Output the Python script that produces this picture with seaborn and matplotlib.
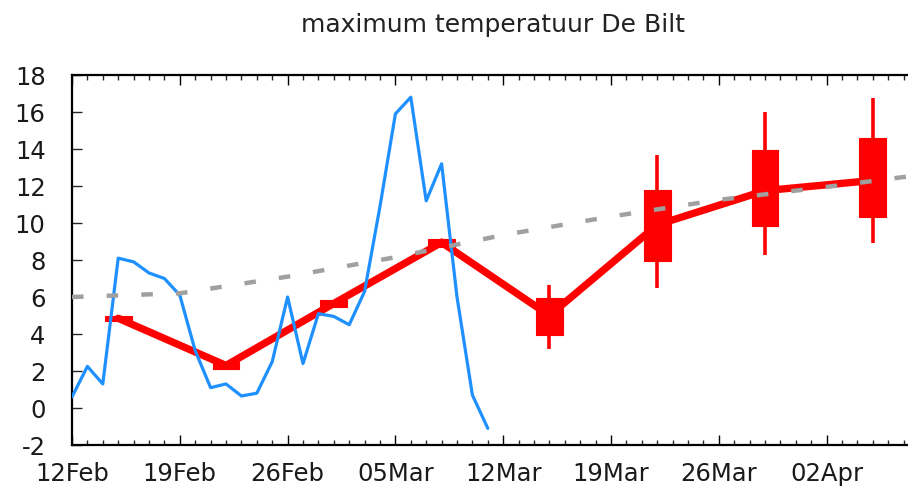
import numpy as np
import pandas as pd
import matplotlib
matplotlib.use("Agg")
import matplotlib.pyplot as plt
import matplotlib.dates as mdates
import seaborn as sns

# ---------------- data ----------------
start_date = "2023-02-12"

# observed daily maximum temperature (blue), one value per day from 12 Feb
obs_max = [0.6, 2.25, 1.3, 8.1, 7.9, 7.3, 7.0, 6.1, 3.1, 1.1, 1.3, 0.65, 0.8, 2.5,
           6.0, 2.4, 5.1, 4.95, 4.5, 6.3, 10.9, 15.9, 16.8, 11.2, 13.2, 6.0, 0.7, -1.1]

# weekly forecast (red): day offsets from 12 Feb, median, box and whiskers
fc_offset = [3, 10, 17, 24, 31, 38, 45, 52]
fc_median = [4.85, 2.3, 5.65, 8.95, 5.0, 9.9, 11.75, 12.3]
fc_q25 = [4.72, 2.1, 5.45, 8.72, 3.93, 7.92, 9.84, 10.35]
fc_q75 = [4.97, 2.5, 5.85, 9.15, 5.94, 11.78, 13.94, 14.6]
fc_min = [4.72, 2.1, 5.45, 8.72, 3.21, 6.48, 8.28, 8.9]
fc_max = [4.97, 2.5, 5.85, 9.15, 6.66, 13.65, 16.0, 16.75]

# climatology (grey dashed)
clim_offset = [0, 7, 14, 21, 28, 35, 42, 49, 56]
clim_value = [6.0, 6.2, 7.1, 8.15, 9.35, 10.35, 11.25, 11.95, 12.7]

x_tick_dates = ["2023-02-12", "2023-02-19", "2023-02-26", "2023-03-05",
                "2023-03-12", "2023-03-19", "2023-03-26", "2023-04-02"]
y_ticks = [-2, 0, 2, 4, 6, 8, 10, 12, 14, 16, 18]
title = "maximum temperatuur De Bilt"

# ---------------- frames ----------------
t0 = pd.Timestamp(start_date)
obs_df = pd.DataFrame({"date": pd.date_range(t0, periods=len(obs_max), freq="D"),
                       "tmax": obs_max})
fc_df = pd.DataFrame({"date": [t0 + pd.Timedelta(days=d) for d in fc_offset],
                      "median": fc_median, "q25": fc_q25, "q75": fc_q75,
                      "lo": fc_min, "hi": fc_max})
clim_df = pd.DataFrame({"date": [t0 + pd.Timedelta(days=d) for d in clim_offset],
                        "tmax": clim_value})

# ---------------- plot ----------------
sns.set_style("white")
plt.rcParams["font.family"] = ["DejaVu Sans"]

W, H = 908, 494
fig = plt.figure(figsize=(W / 100, H / 100), dpi=100)
left, right, top, bottom = 72, 914, 75, 445
ax = fig.add_axes([left / W, 1 - bottom / H, (right - left) / W, (bottom - top) / H])

red = "#ff0000"
blue = "#1e90ff"
grey = "#a0a0a0"

# candlesticks
box_w = 1.75
ax.vlines(fc_df["date"], fc_df["lo"], fc_df["hi"], color=red, lw=2.6, zorder=2)
ax.bar(fc_df["date"], fc_df["q75"] - fc_df["q25"], bottom=fc_df["q25"],
       width=box_w, color=red, edgecolor=red, linewidth=0.8, zorder=2)

sns.lineplot(data=fc_df, x="date", y="median", ax=ax, color=red, lw=5.3,
             zorder=3, solid_joinstyle="miter")
sns.lineplot(data=obs_df, x="date", y="tmax", ax=ax, color=blue, lw=2.3, zorder=4)
sns.lineplot(data=clim_df, x="date", y="tmax", ax=ax, color=grey, lw=3.2,
             zorder=5, dashes=False)
ax.lines[-1].set_dashes((2.6, 5.2))
ax.lines[-1].set_dash_capstyle("butt")

# axes
ax.set_xlim(t0, t0 + pd.Timedelta(days=(right - left) / 15.4))
ax.set_ylim(-2, 18)
ax.set_xlabel("")
ax.set_ylabel("")

ax.xaxis.set_major_locator(matplotlib.ticker.FixedLocator(
    mdates.date2num(pd.to_datetime(x_tick_dates))))
ax.xaxis.set_major_formatter(mdates.DateFormatter("%d%b"))
ax.xaxis.set_minor_locator(mdates.DayLocator())
ax.set_yticks(y_ticks)
ax.set_yticklabels([str(v) for v in y_ticks])

ax.tick_params(axis="x", which="major", direction="in", length=7, width=1.0,
               top=True, bottom=True, labelsize=17.5, pad=12, colors="black")
ax.tick_params(axis="x", which="minor", direction="in", length=3.8, width=1.0,
               top=True, bottom=True)
ax.tick_params(axis="y", which="major", direction="in", length=7, width=1.0,
               left=True, right=False, labelsize=17.5, pad=19)
for lab in ax.get_xticklabels() + ax.get_yticklabels():
    lab.set_color("#1a1a1a")

for s in ax.spines.values():
    s.set_linewidth(1.6)
    s.set_color("black")

ax.set_title(title, fontsize=18, pad=31, color="#222222")

fig.savefig("out.png", dpi=100)
